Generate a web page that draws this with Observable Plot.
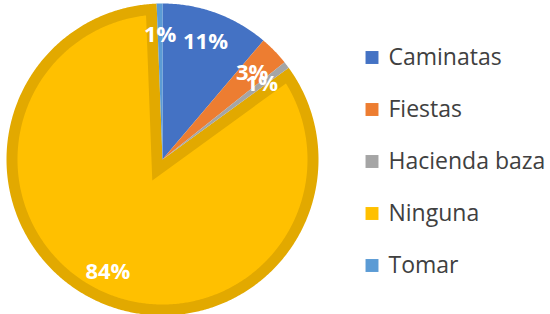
<!DOCTYPE html>
<html>
<head>
<meta charset="utf-8">
<script src="https://cdn.jsdelivr.net/npm/d3@7"></script>
<script src="https://cdn.jsdelivr.net/npm/@observablehq/plot@0.6"></script>
<style>
  html, body { margin: 0; padding: 0; background: #fff; }
  #wrap { position: relative; width: 550px; height: 314px; overflow: hidden; }
  #pie { position: absolute; left: 0; top: 0; }
  #legend { position: absolute; left: 360px; top: 0; }
</style>
</head>
<body>
<div id="wrap"><div id="pie"></div><div id="legend"></div></div>
<script>
// ---- data ----
const categories = ["Caminatas", "Fiestas", "Hacienda baza", "Ninguna", "Tomar"];
const values = [11.2, 3.1, 0.7, 84.4, 0.6];
const colors = ["#4472C4", "#ED7D31", "#A5A5A5", "#FFC000", "#5B9BD5"];
const borderColor = "#E2A900";   // darker rim of the large slice
const bandedCategory = "Ninguna";

// ---- geometry helpers (rendering only) ----
const R_PX = 156;              // outer radius in pixels
const BAND = 11 / R_PX;        // rim thickness in data units
const total = d3.sum(values);
const arcs = d3.pie().sort(null).value(d => d.value)(
  categories.map((c, i) => ({ name: c, value: values[i] }))
);

function wedge(key, a0, a1, r) {
  const pts = [{ key, x: 0, y: 0 }];
  const steps = Math.max(2, Math.ceil((a1 - a0) / (Math.PI / 360)));
  for (let k = 0; k <= steps; k++) {
    const a = a0 + (a1 - a0) * k / steps;
    pts.push({ key, x: r * Math.sin(a), y: r * Math.cos(a) });
  }
  return pts;
}
function insetWedge(key, a0, a1, t) {
  const span = a1 - a0, mid = (a0 + a1) / 2;
  const d = t / Math.sin(span / 2);
  const rho = 1 - t;
  const da = Math.asin(t / rho);
  const pts = [{ key, x: d * Math.sin(mid), y: d * Math.cos(mid) }];
  const b0 = a0 + da, b1 = a1 - da;
  const steps = Math.ceil((b1 - b0) / (Math.PI / 360));
  for (let k = 0; k <= steps; k++) {
    const a = b0 + (b1 - b0) * k / steps;
    pts.push({ key, x: rho * Math.sin(a), y: rho * Math.cos(a) });
  }
  return pts;
}

const keys = [], keyColors = [];
let points = [];
for (const a of arcs) {
  const i = categories.indexOf(a.data.name);
  if (a.data.name === bandedCategory) {
    keys.push(a.data.name + "-rim"); keyColors.push(borderColor);
    points = points.concat(wedge(a.data.name + "-rim", a.startAngle, a.endAngle, 1));
    keys.push(a.data.name); keyColors.push(colors[i]);
    points = points.concat(insetWedge(a.data.name, a.startAngle, a.endAngle, BAND));
  }
}
for (const a of arcs) {
  const i = categories.indexOf(a.data.name);
  if (a.data.name !== bandedCategory) {
    keys.push(a.data.name); keyColors.push(colors[i]);
    points = points.concat(wedge(a.data.name, a.startAngle, a.endAngle, 1));
  }
}

const labelData = arcs.map(a => {
  const mid = (a.startAngle + a.endAngle) / 2;
  const r = 0.8;
  return {
    x: r * Math.sin(mid),
    y: r * Math.cos(mid),
    text: Math.round(a.data.value / total * 100) + "%"
  };
});

const pie = Plot.plot({
  width: 550,
  height: 314,
  margin: 0,
  x: { domain: [-1, 1], range: [162 - R_PX, 162 + R_PX], axis: null },
  y: { domain: [-1, 1], range: [159 + R_PX, 159 - R_PX], axis: null },
  color: { type: "ordinal", domain: keys, range: keyColors },
  marks: [
    Plot.line(points, { x: "x", y: "y", z: "key", fill: "key", stroke: "none", curve: "linear-closed" }),
    Plot.text(labelData, {
      x: "x", y: "y", text: "text",
      fill: "white", fontSize: 22, fontWeight: "bold", fontFamily: "Open Sans"
    })
  ]
});
document.getElementById("pie").appendChild(pie);

const legend = Plot.plot({
  width: 190,
  height: 314,
  margin: 0,
  x: { domain: [0, 190], range: [0, 190], axis: null },
  y: { type: "point", domain: categories, range: [56.5, 265.5], padding: 0, axis: null },
  color: { type: "ordinal", domain: categories, range: colors },
  marks: [
    Plot.dot(categories, { x: () => 11.5, y: d => d, fill: d => d, symbol: "square", r: 7.3, stroke: "none" }),
    Plot.text(categories, {
      x: () => 28, y: d => d, text: d => d, textAnchor: "start",
      fontSize: 23, fill: "#404040", fontFamily: "Open Sans"
    })
  ]
});
document.getElementById("legend").appendChild(legend);
</script>
</body>
</html>
